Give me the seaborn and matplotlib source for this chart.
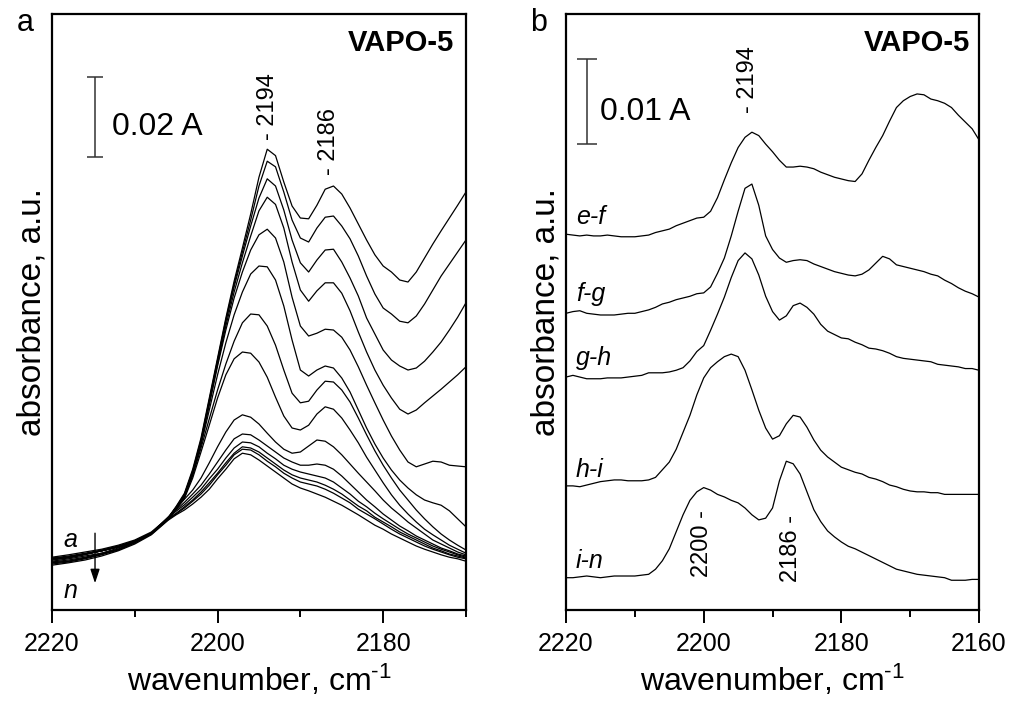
import matplotlib
matplotlib.use('Agg')
import matplotlib.pyplot as plt
import pandas as pd
import seaborn as sns

sns.set_theme(style='white')
plt.rcParams['font.family'] = ['Liberation Sans', 'DejaVu Sans']
plt.rcParams.update({
    'mathtext.fontset': 'custom', 'mathtext.rm': 'Liberation Sans',
    'mathtext.it': 'Liberation Sans:italic',
    'text.color': 'black', 'axes.labelcolor': 'black',
    'xtick.color': 'black', 'axes.edgecolor': 'black',
})

# ---- panel a: wavenumber grid (cm-1) and spectra a..n (mA) ----
WN_A = [2220, 2218, 2216, 2214, 2212, 2210, 2208, 2206, 2205, 2204, 2203, 2202, 2201,
        2200, 2199, 2198, 2197, 2196, 2195, 2194, 2193, 2192, 2191, 2190, 2189, 2188,
        2187, 2186, 2185, 2184, 2183, 2182, 2181, 2180, 2179, 2178, 2177, 2176,
        2175, 2174, 2173, 2172, 2171, 2170]

pa_a = [13.2, 13.8, 14.5, 15.2, 16.2, 17.5, 19.5, 23.0, 25.9, 29.2, 35.2, 43.0, 53.0, 63.0, 73.0, 82.2,
        90.5, 99.0, 108.2, 115.2, 113.6, 107.0, 101.0, 98.0, 97.8, 101.2, 105.2, 106.0, 104.0,
        100.5, 96.5, 92.5, 88.8, 86.0, 84.5, 82.5, 82.0, 84.5, 88.0, 91.5, 94.8, 98.0, 101.2, 104.5]
pa_b = [13.0, 13.5, 14.2, 15.0, 16.0, 17.2, 19.2, 22.9, 25.7, 28.9, 34.8, 42.5, 52.5, 62.5, 72.5, 81.5,
        89.5, 97.5, 106.0, 112.2, 110.8, 104.5, 97.5, 93.0, 92.0, 95.5, 98.2, 98.5, 96.0,
        92.8, 88.5, 83.5, 79.0, 75.5, 74.0, 72.2, 71.8, 73.5, 76.5, 80.0, 83.5, 86.5, 89.5, 92.5]
pa_c = [12.8, 13.2, 14.0, 14.8, 15.8, 17.2, 19.2, 22.9, 25.7, 28.8, 34.6, 42.2, 52.2, 62.2, 72.0, 80.8,
        88.5, 96.0, 103.0, 107.8, 106.0, 100.0, 92.5, 86.8, 84.5, 87.5, 90.0, 90.2, 87.0,
        83.0, 78.5, 73.0, 69.0, 65.0, 62.5, 61.0, 60.0, 60.5, 62.2, 64.5, 67.0, 70.0, 73.2, 76.8]
pa_d = [12.8, 13.2, 14.0, 14.8, 15.8, 17.2, 19.2, 22.9, 25.6, 28.6, 34.4, 42.0, 51.8, 61.5, 71.0, 79.5,
        86.8, 93.5, 99.8, 103.2, 101.4, 95.5, 87.0, 80.0, 77.2, 79.8, 81.8, 81.8, 79.2,
        74.8, 69.5, 64.5, 60.0, 56.2, 53.0, 50.2, 49.0, 50.0, 51.8, 53.5, 55.2, 57.0, 58.8, 60.8]
pa_e = [12.8, 13.2, 14.0, 14.8, 15.8, 17.2, 19.2, 22.8, 25.5, 28.5, 34.2, 41.8, 51.2, 61.0, 70.0, 78.0,
        84.5, 90.0, 93.8, 95.2, 93.0, 87.0, 78.2, 71.0, 68.5, 69.2, 70.2, 70.0, 68.2,
        65.0, 60.8, 56.2, 51.8, 47.5, 43.5, 40.0, 37.0, 35.8, 36.5, 37.2, 37.0, 36.2, 36.0, 35.8]
pa_f = [12.8, 13.2, 14.0, 14.8, 15.8, 17.2, 19.2, 22.8, 25.4, 28.3, 34.0, 41.2, 50.0, 58.8, 66.8, 73.8,
        79.5, 84.0, 86.0, 85.8, 82.5, 76.0, 67.5, 60.0, 58.5, 60.0, 61.0, 60.5, 58.0,
        54.5, 50.0, 45.5, 41.5, 38.0, 35.0, 32.5, 30.5, 28.8, 27.5, 26.8, 26.2, 24.8, 22.8, 20.8]
pa_g = [12.8, 13.2, 14.0, 14.8, 15.8, 17.2, 19.2, 22.8, 25.4, 28.2, 33.6, 40.5, 47.8, 55.0, 61.5, 67.2,
        71.8, 74.0, 73.8, 71.0, 66.2, 60.0, 54.2, 51.8, 52.2, 55.0, 57.2, 57.0, 55.0,
        52.0, 48.0, 43.8, 39.8, 36.2, 33.0, 30.0, 27.5, 25.0, 22.8, 20.8, 19.0, 17.5, 16.2, 15.0]
pa_h = [12.5, 13.0, 13.8, 14.8, 15.8, 17.2, 19.0, 22.5, 25.1, 27.9, 33.0, 39.5, 46.2, 53.0, 58.8, 62.8,
        64.5, 64.2, 62.0, 58.2, 53.2, 48.5, 45.5, 45.0, 46.2, 49.0, 50.8, 50.2, 48.0,
        45.0, 41.8, 38.2, 35.0, 31.8, 28.8, 26.2, 24.0, 22.0, 20.2, 18.8, 17.5, 16.2, 15.2, 14.2]
pa_i = [12.2, 12.8, 13.5, 14.2, 15.5, 17.0, 19.2, 23.0, 25.5, 27.7, 30.0, 33.0, 36.8, 40.8, 44.5, 47.5,
        48.8, 48.2, 46.5, 44.2, 42.0, 40.2, 39.2, 39.5, 41.0, 42.5, 42.2, 40.8, 38.8,
        36.5, 34.2, 32.0, 29.8, 27.5, 25.5, 23.8, 22.0, 20.5, 19.0, 17.5, 16.5, 15.5, 14.5, 13.8]
pa_j = [12.0, 12.5, 13.2, 14.2, 15.2, 17.0, 19.2, 23.2, 25.0, 26.9, 29.0, 31.2, 34.0, 37.0, 40.0, 42.8,
        44.0, 43.8, 42.5, 41.0, 39.5, 38.0, 37.0, 36.2, 36.2, 36.5, 36.2, 35.2, 33.5,
        31.5, 29.5, 27.5, 25.8, 24.0, 22.5, 21.0, 19.8, 18.5, 17.5, 16.5, 15.5, 14.8, 14.0, 13.5]
pa_k = [11.8, 12.2, 13.0, 14.0, 15.2, 16.8, 19.0, 23.0, 24.7, 26.3, 28.2, 30.2, 32.8, 35.2, 38.0, 40.5,
        42.0, 41.8, 40.8, 39.2, 37.8, 36.2, 35.2, 34.5, 34.0, 33.5, 33.0, 32.0, 30.5,
        29.0, 27.2, 25.8, 24.2, 22.8, 21.5, 20.2, 19.0, 18.0, 17.0, 16.0, 15.2, 14.5, 13.8, 13.2]
pa_l = [11.8, 12.2, 13.0, 14.0, 15.0, 16.8, 19.0, 22.8, 24.2, 25.8, 27.5, 29.5, 31.8, 34.2, 36.8, 39.2,
        40.8, 40.5, 39.5, 38.0, 36.5, 35.0, 33.8, 33.0, 32.5, 32.0, 31.2, 30.2, 29.0,
        27.5, 26.0, 24.8, 23.2, 22.0, 20.8, 19.5, 18.5, 17.5, 16.5, 15.5, 14.8, 14.0, 13.5, 13.0]
pa_m = [11.5, 12.0, 12.8, 13.8, 15.0, 16.8, 19.0, 22.6, 24.0, 25.5, 27.2, 29.0, 31.2, 33.8, 36.2, 38.8,
        40.2, 40.0, 38.8, 37.2, 35.8, 34.2, 33.0, 32.0, 31.5, 31.0, 30.2, 29.2, 28.0,
        26.8, 25.2, 24.0, 22.8, 21.5, 20.2, 19.0, 18.0, 17.0, 16.0, 15.2, 14.5, 13.8, 13.2, 12.8]
pa_n = [11.2, 11.8, 12.5, 13.5, 14.8, 16.5, 18.8, 22.4, 23.8, 25.0, 26.5, 28.2, 30.2, 32.8, 35.2, 37.8,
        39.2, 38.8, 37.5, 36.0, 34.5, 33.0, 31.5, 30.5, 29.8, 29.0, 28.2, 27.2, 26.2,
        25.0, 23.8, 22.5, 21.2, 20.2, 19.0, 18.0, 17.0, 16.0, 15.2, 14.5, 13.8, 13.2, 12.8, 12.2]

# ---- panel b: difference spectra (mA) on a 1 cm-1 grid ----
WN_B = [2220, 2219, 2218, 2217, 2216, 2215, 2214, 2213, 2212, 2211, 2210, 2209, 2208,
        2207, 2206, 2205, 2204, 2203, 2202, 2201, 2200, 2199, 2198, 2197, 2196, 2195,
        2194, 2193, 2192, 2191, 2190, 2189, 2188, 2187, 2186, 2185, 2184, 2183, 2182,
        2181, 2180, 2179, 2178, 2177, 2176, 2175, 2174, 2173, 2172, 2171, 2170, 2169,
        2168, 2167, 2166, 2165, 2164, 2163, 2162, 2161, 2160]

pb_ef = [44.2, 44.1, 44.0, 44.1, 44.0, 44.0, 44.1, 44.0, 43.9, 43.9, 43.9, 44.0, 44.1,
         44.4, 44.6, 44.8, 45.2, 45.5, 45.8, 46.1, 46.2, 46.9, 48.5, 50.6, 52.6, 54.4,
         55.6, 56.2, 55.8, 54.8, 53.9, 52.9, 52.1, 52.1, 52.2, 52.1, 51.9, 51.5, 51.2,
         50.9, 50.7, 50.5, 50.4, 51.3, 52.9, 54.4, 55.8, 57.5, 59.1, 59.9, 60.4, 60.7,
         60.6, 60.1, 59.9, 59.6, 59.1, 58.2, 57.4, 56.6, 55.3]
pb_fg = [34.9, 35.1, 35.2, 34.9, 34.8, 34.7, 34.7, 34.7, 34.8, 34.9, 34.9, 35.1, 35.3,
         35.6, 36.0, 36.2, 36.5, 36.7, 36.9, 37.2, 37.3, 38.0, 39.6, 41.4, 44.0, 46.9,
         49.6, 50.1, 47.6, 44.0, 42.4, 41.4, 40.9, 41.1, 41.2, 41.1, 40.7, 40.4, 40.1,
         39.8, 39.6, 39.4, 39.3, 39.5, 40.0, 40.8, 41.6, 41.3, 40.6, 40.4, 40.2, 40.0,
         39.8, 39.5, 39.3, 38.8, 38.4, 37.9, 37.5, 37.2, 36.8]
pb_gh = [27.4, 27.6, 27.4, 27.2, 27.2, 27.2, 27.3, 27.3, 27.3, 27.4, 27.5, 27.6, 27.9,
         27.9, 27.9, 28.0, 28.2, 28.5, 29.3, 30.4, 31.1, 32.9, 34.8, 36.8, 39.1, 41.1,
         42.0, 41.3, 39.4, 36.9, 35.1, 34.1, 34.6, 35.8, 36.1, 35.6, 34.8, 33.6, 32.8,
         32.4, 32.0, 31.9, 31.5, 31.2, 30.8, 30.7, 30.5, 30.2, 29.8, 29.6, 29.5, 29.4,
         29.3, 29.2, 28.9, 28.8, 28.7, 28.6, 28.4, 28.4, 28.2]
pb_hi = [14.6, 14.6, 14.5, 14.7, 14.9, 15.1, 15.2, 15.3, 15.3, 15.2, 15.2, 15.2, 15.3,
         15.6, 16.5, 17.4, 18.9, 20.9, 22.9, 25.3, 27.3, 28.5, 29.2, 29.8, 30.1, 29.8,
         28.2, 25.9, 23.5, 21.4, 20.1, 20.5, 21.9, 22.9, 22.7, 21.5, 20.0, 18.8, 18.0,
         17.4, 16.8, 16.5, 16.2, 16.0, 15.6, 15.4, 15.1, 14.7, 14.5, 14.2, 14.0, 13.9,
         13.9, 13.8, 13.8, 13.6, 13.6, 13.6, 13.6, 13.6, 13.6]
pb_in = [3.8, 3.8, 3.9, 4.0, 3.9, 3.8, 3.9, 4.0, 4.0, 4.0, 4.0, 4.1, 4.2,
         4.8, 5.8, 7.2, 9.2, 11.2, 12.9, 13.9, 14.4, 14.1, 13.6, 13.3, 12.9, 12.6,
         12.0, 11.2, 10.6, 10.8, 12.0, 15.2, 17.5, 17.2, 16.0, 13.9, 11.8, 10.4, 9.3,
         8.6, 8.0, 7.5, 7.2, 6.8, 6.4, 6.0, 5.6, 5.2, 4.8, 4.6, 4.4, 4.2,
         4.1, 4.0, 3.9, 3.8, 3.5, 3.5, 3.5, 3.6, 3.6]

LABELS_B = ['e-f', 'f-g', 'g-h', 'h-i', 'i-n']
LABEL_Y_B = [45.4, 36.4, 28.8, 15.7, 4.9]


def long_frame(wn, curves):
    parts = [pd.DataFrame({'wn': wn, 'A': v, 'curve': k}) for k, v in curves]
    return pd.concat(parts, ignore_index=True)


dfa = long_frame(WN_A, [('a', pa_a), ('b', pa_b), ('c', pa_c), ('d', pa_d), ('e', pa_e),
                        ('f', pa_f), ('g', pa_g), ('h', pa_h), ('i', pa_i), ('j', pa_j),
                        ('k', pa_k), ('l', pa_l), ('m', pa_m), ('n', pa_n)])
dfb = long_frame(WN_B, list(zip(LABELS_B, [pb_ef, pb_fg, pb_gh, pb_hi, pb_in])))

fig = plt.figure(figsize=(10.09, 7.01), dpi=100)
ax1 = fig.add_axes([0.0515, 0.1298, 0.4103, 0.8502])
ax2 = fig.add_axes([0.561, 0.1298, 0.4093, 0.8502])

sns.lineplot(data=dfa, x='wn', y='A', hue='curve', palette=['black'] * 14,
             legend=False, linewidth=0.9, estimator=None, sort=False, ax=ax1)
sns.lineplot(data=dfb, x='wn', y='A', hue='curve', palette=['black'] * 5,
             legend=False, linewidth=0.9, estimator=None, sort=False, ax=ax2)

ax1.set_xlim(2220, 2170)
ax1.set_ylim(0, 149)
ax2.set_xlim(2220, 2160)
ax2.set_ylim(0, 70.1)
ax1.set_xticks([2220, 2200, 2180])
ax1.set_xticks([2210, 2190, 2170], minor=True)
ax2.set_xticks([2220, 2200, 2180, 2160])
ax2.set_xticks([2210, 2190, 2170], minor=True)

for ax in (ax1, ax2):
    for s in ax.spines.values():
        s.set_linewidth(1.6)
        s.set_color('black')
    ax.tick_params(axis='x', which='major', bottom=True, direction='out',
                   length=9, width=1.4, labelsize=18, pad=7)
    ax.tick_params(axis='x', which='minor', bottom=True, direction='out',
                   length=5, width=1.4)
    ax.tick_params(axis='y', left=False, labelleft=False)
    ax.set_xlabel('wavenumber, cm$^{\u20101}$', fontsize=23, labelpad=5)
    ax.set_ylabel('absorbance, a.u.', fontsize=24, labelpad=3)

# scale bars
ax1.errorbar([2214.8], [123.2], yerr=[10.0], color='#333333', lw=1.1,
             capsize=6, capthick=1.1)
ax1.text(2212.8, 120.8, '0.02 A', fontsize=23, ha='left', va='center')
ax2.errorbar([2216.9], [59.8], yerr=[5.0], color='#333333', lw=1.1,
             capsize=7, capthick=1.1)
ax2.text(2215.1, 58.6, '0.01 A', fontsize=23, ha='left', va='center')

ax1.text(2171.4, 141.8, 'VAPO-5', fontsize=21, fontweight='bold', ha='right', va='center')
ax2.text(2161.3, 66.7, 'VAPO-5', fontsize=21, fontweight='bold', ha='right', va='center')

# peak marks
ax1.text(2193.9, 117.5, '- 2194', rotation=90, fontsize=17, ha='center', va='bottom')
ax1.text(2186.6, 108.8, '- 2186', rotation=90, fontsize=17, ha='center', va='bottom')
ax2.text(2193.6, 58.5, '- 2194', rotation=90, fontsize=17, ha='center', va='bottom')
ax2.text(2200.2, 11.8, '2200 -', rotation=90, fontsize=17, ha='center', va='top')
ax2.text(2187.3, 11.2, '2186 -', rotation=90, fontsize=17, ha='center', va='top')

# series labels
ax1.text(2217.8, 15.8, 'a', fontsize=18, style='italic', ha='center', va='baseline')
ax1.text(2217.8, 2.9, 'n', fontsize=18, style='italic', ha='center', va='baseline')
ax1.annotate('', xy=(2214.8, 6.7), xytext=(2214.8, 19.2),
             arrowprops=dict(arrowstyle='-|>,head_length=0.6,head_width=0.2',
                             color='black', lw=1.0, mutation_scale=14,
                             shrinkA=0, shrinkB=0))
for lab, y in zip(LABELS_B, LABEL_Y_B):
    ax2.text(2218.6, y, lab, fontsize=18, style='italic', ha='left', va='baseline')

fig.text(0.0248, 0.967, 'a', fontsize=22, ha='center', va='center')
fig.text(0.534, 0.967, 'b', fontsize=22, ha='center', va='center')

fig.savefig('out.png', dpi=100)
